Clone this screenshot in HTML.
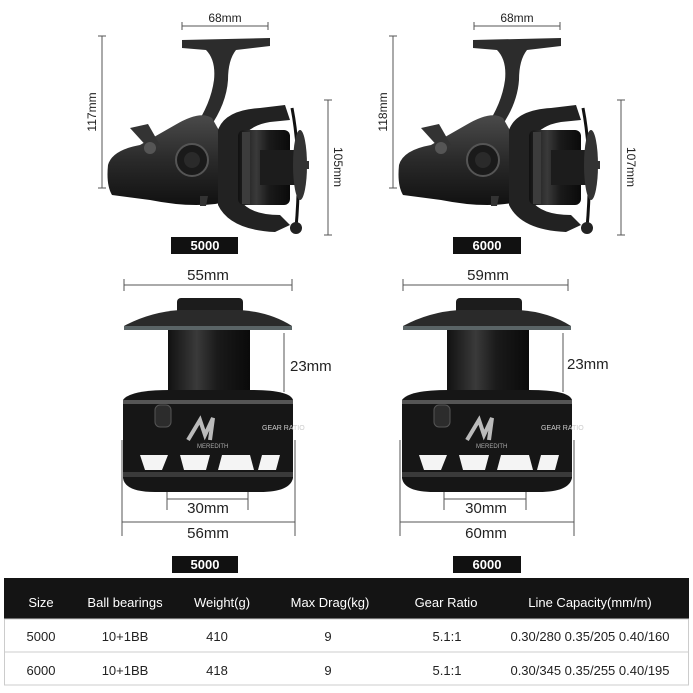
<!DOCTYPE html>
<html><head><meta charset="utf-8"><style>
html,body{margin:0;padding:0;background:#fff;width:693px;height:693px;overflow:hidden}
svg{display:block}
text{font-family:"Liberation Sans",sans-serif}
</style></head><body>
<svg width="693" height="693" viewBox="0 0 693 693" xmlns="http://www.w3.org/2000/svg">
<defs>
<linearGradient id="bodyg" x1="0" y1="0" x2="0" y2="1"><stop offset="0" stop-color="#4a4a4a"/><stop offset="0.5" stop-color="#2a2a2a"/><stop offset="1" stop-color="#111"/></linearGradient>
<linearGradient id="cyl" x1="0" y1="0" x2="1" y2="0"><stop offset="0" stop-color="#111"/><stop offset="0.35" stop-color="#3a3a3a"/><stop offset="0.6" stop-color="#1a1a1a"/><stop offset="1" stop-color="#0a0a0a"/></linearGradient>
<g id="reel">
  <!-- handle -->
  <path d="M182 40 L270 38 L270 46 L236 50 Q228 60 228 80 Q226 110 200 140 L185 140 Q210 110 214 80 Q216 60 206 50 L182 48 Z" fill="#2c2c2c"/>
  <!-- body -->
  <path d="M108 165 Q112 150 140 145 L175 125 Q200 110 212 118 L230 150 L235 200 Q200 210 150 200 L112 195 Q106 185 108 165 Z" fill="url(#bodyg)"/>
  <path d="M130 128 L148 124 L160 145 L150 150 Z" fill="#333"/>
  <circle cx="150" cy="148" r="6" fill="#555"/>
  <circle cx="192" cy="160" r="16" fill="#1a1a1a" stroke="#555" stroke-width="2"/>
  <circle cx="192" cy="160" r="8" fill="#2a2a2a"/>
  <path d="M200 196 L208 196 L206 206 L200 206 Z" fill="#333"/>
  <!-- rotor / spool -->
  <path d="M218 130 Q225 110 260 108 L285 105 L290 120 L270 122 Q250 125 240 140 L240 200 Q250 215 280 215 L290 225 L275 232 Q230 230 218 205 Z" fill="#222"/>
  <rect x="238" y="130" width="52" height="75" rx="6" fill="url(#cyl)"/>
  <rect x="242" y="132" width="8" height="72" fill="#3c3c3c"/>
  <rect x="260" y="150" width="40" height="35" fill="#1c1c1c"/>
  <path d="M292 108 Q302 160 296 228" stroke="#111" stroke-width="3" fill="none"/>
  <ellipse cx="300" cy="165" rx="7" ry="35" fill="#333"/>
  <circle cx="296" cy="228" r="6" fill="#222"/>
  <rect x="304" y="161" width="5" height="8" fill="#333"/>
</g>
<g id="spool">
  <rect x="177" y="298" width="66" height="16" rx="4" fill="#1c1c1c"/>
  <path d="M124 326 Q150 312 180 310 L240 310 Q270 312 292 326 L292 330 L124 330 Z" fill="#2a2a2a"/>
  <rect x="124" y="326" width="168" height="4" fill="#5a6466"/>
  <rect x="168" y="330" width="82" height="68" fill="url(#cyl)"/>
  <path d="M123 400 Q130 390 170 390 L250 390 Q290 390 293 400 L293 478 Q290 492 260 492 L155 492 Q125 492 123 478 Z" fill="#161616"/>
  <rect x="123" y="400" width="170" height="4" fill="#555"/>
  <path d="M140 455 L168 455 L162 470 L145 470 Z M180 455 L210 455 L206 470 L184 470 Z M222 455 L250 455 L254 470 L218 470 Z M262 455 L280 455 L276 470 L258 470 Z" fill="#f4f4f4"/>
  <rect x="123" y="472" width="170" height="5" fill="#3a3a3a"/>
  <rect x="155" y="405" width="16" height="22" rx="5" fill="#2c2c2c" stroke="#555"/>
  <path d="M188 440 L200 420 L205 435 L213 418 L210 440" stroke="#bbb" stroke-width="4" fill="none"/>
  <text x="197" y="448" font-size="6" fill="#aaa">MEREDITH</text>
  <text x="262" y="430" font-size="7" fill="#ccc">GEAR RATIO</text>
</g>
</defs>

<g fill="none" stroke="#555" stroke-width="1">
  <path d="M182 26H268M182 22V30M268 22V30"/>
  <path d="M102 36V188M98 36H106M98 188H106"/>
  <path d="M328 100V235M324 100H332M324 235H332"/>
  <path d="M474 26H560M474 22V30M560 22V30"/>
  <path d="M393 36V188M389 36H397M389 188H397"/>
  <path d="M621 100V235M617 100H625M617 235H625"/>
  <path d="M124 285H292M124 279V291M292 279V291"/>
  <path d="M284 333V392"/>
  <path d="M167 470V510M248 470V510M167 499H248"/>
  <path d="M122 440V536M295 440V536M122 522H295"/>
  <path d="M403 285H568M403 279V291M568 279V291"/>
  <path d="M563 333V392"/>
  <path d="M444 470V510M526 470V510M444 499H526"/>
  <path d="M400 440V536M574 440V536M400 522H574"/>
</g>
<g font-size="12" fill="#222">
  <text x="225" y="22" text-anchor="middle">68mm</text>
  <text x="517" y="22" text-anchor="middle">68mm</text>
  <text transform="translate(96,112) rotate(-90)" text-anchor="middle">117mm</text>
  <text transform="translate(387,112) rotate(-90)" text-anchor="middle">118mm</text>
  <text transform="translate(334,167) rotate(90)" text-anchor="middle">105mm</text>
  <text transform="translate(627,167) rotate(90)" text-anchor="middle">107mm</text>
</g>
<g font-size="15" fill="#222">
  <text x="208" y="280" text-anchor="middle">55mm</text>
  <text x="488" y="280" text-anchor="middle">59mm</text>
  <text x="290" y="371">23mm</text>
  <text x="567" y="369">23mm</text>
  <text x="208" y="513" text-anchor="middle">30mm</text>
  <text x="486" y="513" text-anchor="middle">30mm</text>
  <text x="208" y="538" text-anchor="middle">56mm</text>
  <text x="486" y="538" text-anchor="middle">60mm</text>
</g>

<use href="#reel"/>
<use href="#reel" transform="translate(291,0)"/>
<use href="#spool"/>
<use href="#spool" transform="translate(279,0)"/>

<rect x="171" y="237" width="67" height="17" fill="#111"/>
<rect x="453" y="237" width="68" height="17" fill="#111"/>
<rect x="172" y="556" width="66" height="17" fill="#111"/>
<rect x="453" y="556" width="68" height="17" fill="#111"/>
<g font-size="13" font-weight="bold" fill="#fff" text-anchor="middle">
  <text x="205" y="250">5000</text>
  <text x="487" y="250">6000</text>
  <text x="205" y="569">5000</text>
  <text x="487" y="569">6000</text>
</g>

<rect x="4" y="578" width="685" height="41" fill="#141414"/>
<rect x="4.5" y="619" width="684" height="66" fill="none" stroke="#ccc"/>
<line x1="4" y1="652" x2="689" y2="652" stroke="#ccc"/>
<g font-size="13" text-anchor="middle" fill="#fff">
  <text x="41" y="607">Size</text>
  <text x="125" y="607">Ball bearings</text>
  <text x="222" y="607">Weight(g)</text>
  <text x="330" y="607">Max Drag(kg)</text>
  <text x="446" y="607">Gear Ratio</text>
  <text x="590" y="607">Line Capacity(mm/m)</text>
</g>
<g font-size="13" text-anchor="middle" fill="#222">
  <text x="41" y="641">5000</text>
  <text x="125" y="641">10+1BB</text>
  <text x="217" y="641">410</text>
  <text x="328" y="641">9</text>
  <text x="447" y="641">5.1:1</text>
  <text x="590" y="641">0.30/280 0.35/205 0.40/160</text>
  <text x="41" y="675">6000</text>
  <text x="125" y="675">10+1BB</text>
  <text x="217" y="675">418</text>
  <text x="328" y="675">9</text>
  <text x="447" y="675">5.1:1</text>
  <text x="590" y="675">0.30/345 0.35/255 0.40/195</text>
</g>
</svg>
</body></html>
